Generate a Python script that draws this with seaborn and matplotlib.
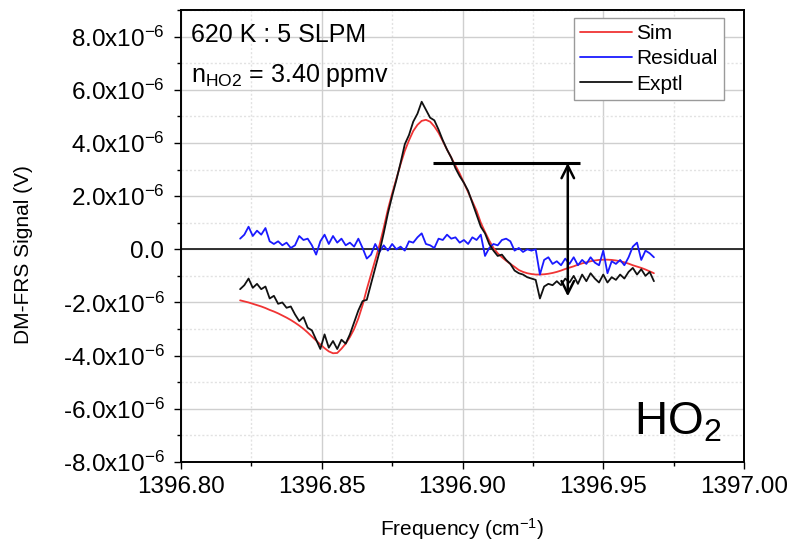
import numpy as np
import pandas as pd
import matplotlib
matplotlib.use("Agg")
import matplotlib.pyplot as plt
import seaborn as sns
from matplotlib.ticker import MultipleLocator, FuncFormatter

# ---------------- data (signal values in units of 1e-6 V) ----------------
series_names = ["Sim", "Residual", "Exptl"]
series_colors = ["#f03434", "#1a1aff", "#111111"]

freq_start = 1396.821   # first sampled frequency (cm^-1)
freq_step = 0.0015      # sampling step (cm^-1)

sim = [-1.92, -1.96, -2.00, -2.05, -2.10, -2.15, -2.21, -2.28, -2.34, -2.41,
       -2.49, -2.57, -2.66, -2.76, -2.87, -2.99, -3.13, -3.28, -3.43, -3.58,
       -3.72, -3.84, -3.91, -3.90, -3.74, -3.55, -3.30, -3.00, -2.60, -2.10,
       -1.50, -0.95, -0.40, 0.15, 0.80, 1.50, 2.10, 2.65, 3.20, 3.70,
       4.10, 4.45, 4.68, 4.83, 4.87, 4.80, 4.62, 4.38, 4.07, 3.75,
       3.45, 3.15, 2.85, 2.50, 2.15, 1.80, 1.45, 1.00, 0.65, 0.33,
       0.05, -0.15, -0.30, -0.43, -0.55, -0.66, -0.78, -0.85, -0.90, -0.93,
       -0.95, -0.95, -0.94, -0.92, -0.89, -0.85, -0.80, -0.74, -0.69, -0.64,
       -0.58, -0.53, -0.49, -0.45, -0.42, -0.40, -0.39, -0.39, -0.40, -0.42,
       -0.45, -0.49, -0.54, -0.60, -0.65, -0.70, -0.76, -0.83, -0.90]

exptl = [-1.50, -1.35, -1.10, -1.45, -1.30, -1.50, -1.40, -1.85, -1.75, -2.05,
         -2.00, -2.20, -2.15, -2.45, -2.70, -2.55, -2.95, -3.05, -3.40, -3.75,
         -3.20, -3.70, -3.45, -3.75, -3.40, -3.55, -3.20, -2.75, -2.30, -1.95,
         -1.90, -1.30, -0.70, -0.10, 0.60, 1.35, 2.00, 2.60, 3.25, 3.95,
         4.30, 4.80, 5.10, 5.55, 5.25, 4.95, 4.85, 4.50, 4.10, 3.75,
         3.45, 3.05, 2.75, 2.50, 2.20, 1.75, 1.30, 0.85, 0.60, 0.20,
         -0.05, -0.25, -0.20, -0.40, -0.55, -0.80, -0.90, -0.95, -1.05, -1.10,
         -1.15, -1.85, -1.40, -1.30, -1.35, -1.20, -1.35, -1.10, -1.25, -1.00,
         -1.30, -0.95, -1.20, -0.90, -1.10, -1.25, -0.95, -1.25, -1.05, -1.15,
         -0.95, -1.10, -0.85, -0.70, -0.95, -0.75, -1.00, -0.85, -1.20]

residual = [0.40, 0.55, 0.85, 0.50, 0.70, 0.55, 0.80, 0.30, 0.20, 0.30,
            0.15, 0.25, 0.05, 0.15, 0.50, 0.35, 0.40, 0.15, -0.20, 0.30,
            0.55, 0.20, 0.50, 0.25, 0.40, 0.15, 0.25, 0.10, 0.40, 0.05,
            -0.35, -0.20, 0.20, -0.10, 0.15, -0.05, 0.20, 0.00, 0.10, -0.05,
            0.30, 0.25, 0.45, 0.60, 0.20, 0.15, 0.05, 0.40, 0.35, 0.55,
            0.40, 0.45, 0.25, 0.35, 0.20, 0.45, 0.35, 0.55, -0.25, 0.05,
            0.20, 0.15, 0.35, 0.40, 0.30, -0.05, 0.05, -0.10, 0.00, -0.05,
            0.00, -0.95, -0.40, -0.30, -0.55, -0.45, -0.60, -0.35, -0.55, -0.30,
            -0.60, -0.40, -0.55, -0.30, -0.50, -0.60, -0.05, -0.90, -0.45, -0.55,
            -0.40, -0.60, -0.30, 0.10, 0.25, -0.40, -0.05, -0.15, -0.30]

freq = [round(freq_start + freq_step * i, 4) for i in range(len(sim))]

# annotation (arrow marking peak-to-trough amplitude), values in 1e-6 V
bar_freqs = [1396.8895, 1396.9417]
arrow_freq = 1396.9374
arrow_top = 3.25
arrow_bottom = -1.77

x_ticks = [1396.80, 1396.85, 1396.90, 1396.95, 1397.00]
y_ticks = [-8, -6, -4, -2, 0, 2, 4, 6, 8]

# ---------------- styling ----------------
sns.set_style("ticks")
plt.rcParams["font.family"] = ["Liberation Sans", "DejaVu Sans"]
plt.rcParams["mathtext.fontset"] = "custom"
plt.rcParams["mathtext.rm"] = "Liberation Sans"
plt.rcParams["mathtext.it"] = "Liberation Sans:italic"
plt.rcParams["mathtext.bf"] = "Liberation Sans:bold"
plt.rcParams["axes.unicode_minus"] = False
plt.rcParams["text.color"] = "black"
plt.rcParams["axes.labelcolor"] = "black"
plt.rcParams["xtick.color"] = "black"
plt.rcParams["ytick.color"] = "black"

df = pd.DataFrame({
    "freq": freq * 3,
    "signal": [v * 1e-6 for v in sim + residual + exptl],
    "series": [series_names[0]] * len(sim) + [series_names[1]] * len(residual)
              + [series_names[2]] * len(exptl),
})

fig = plt.figure(figsize=(7.93, 5.45), dpi=100)
ax = fig.add_axes([181 / 793, 1 - 462 / 545, (744 - 181) / 793, (462 - 10) / 545])

ax.set_xlim(1396.80, 1397.00)
ax.set_ylim(-8e-6, 9e-6)

# grid
ax.xaxis.set_major_locator(MultipleLocator(0.05))
ax.xaxis.set_minor_locator(MultipleLocator(0.025))
ax.yaxis.set_major_locator(MultipleLocator(2e-6))
ax.yaxis.set_minor_locator(MultipleLocator(1e-6))
ax.grid(which="major", color="#cfcfcf", lw=1.0, ls="-")
ax.grid(which="minor", color="#e2e2e2", lw=1.0, ls=(0, (1.5, 1.5)))
ax.set_axisbelow(True)

ax.axhline(0, color="#222222", lw=1.3, zorder=1.5)

sns.lineplot(data=df, x="freq", y="signal", hue="series", hue_order=series_names,
             palette=dict(zip(series_names, series_colors)), ax=ax, lw=1.3,
             sort=False, estimator=None, legend=True, zorder=3)

# annotation
ax.plot([bar_freqs[0], bar_freqs[1]], [arrow_top * 1e-6, arrow_top * 1e-6],
        color="black", lw=2.2, solid_capstyle="butt", zorder=4)
ax.annotate("", xy=(arrow_freq, arrow_bottom * 1e-6), xytext=(arrow_freq, arrow_top * 1e-6),
            arrowprops=dict(arrowstyle="<->,head_length=0.9,head_width=0.45",
                            color="black", lw=1.8, shrinkA=0, shrinkB=0), zorder=4)

# ticks
def yfmt(v, pos):
    m = v / 1e-6
    if abs(m) < 1e-9:
        return "0.0"
    return f"{m:.1f}x10" + r"$^{\mathregular{-6}}$"

ax.yaxis.set_major_formatter(FuncFormatter(yfmt))
ax.xaxis.set_major_formatter(FuncFormatter(lambda v, p: f"{v:.2f}"))
ax.set_xticks(x_ticks)
ax.set_yticks([t * 1e-6 for t in y_ticks])
ax.tick_params(which="major", direction="out", length=5, width=1.0, labelsize=17.5,
               colors="black", pad=5)
ax.tick_params(which="minor", direction="out", length=3, width=1.0, colors="black")
ax.tick_params(axis="y", which="major", pad=7)

for s in ax.spines.values():
    s.set_visible(True)
    s.set_color("black")
    s.set_linewidth(1.4)

ax.set_xlabel("Frequency (cm$^{\\mathregular{-1}}$)", fontsize=15, labelpad=13, color="black")
ax.set_ylabel("DM-FRS Signal (V)", fontsize=15, color="black")
ax.yaxis.set_label_coords(-0.262, 0.46)

# legend
handles, labels = ax.get_legend_handles_labels()
leg = ax.legend(handles, labels, loc="upper right",
                bbox_to_anchor=(724 / 793, 1 - 18 / 545), bbox_transform=fig.transFigure,
                fontsize=15, frameon=True, fancybox=False, framealpha=1,
                edgecolor="#9a9a9a", handlelength=2.5, handletextpad=0.2,
                labelspacing=0.3, borderpad=0.3, borderaxespad=0)
leg.get_frame().set_linewidth(1.0)
for line in leg.get_lines():
    line.set_linewidth(1.3)
for t in leg.get_texts():
    t.set_color("black")

# text annotations
fig.text(191 / 793, 1 - 42 / 545, "620 K : 5 SLPM", fontsize=18, ha="left", va="baseline",
         color="black")
fig.text(191 / 793, 1 - 82 / 545, r"n$_{\mathregular{HO2}}$ = 3.40 ppmv", fontsize=18,
         ha="left", va="baseline", color="black")
fig.text(722 / 793, 1 - 435 / 545, r"HO$_{\mathregular{2}}$", fontsize=33,
         ha="right", va="baseline", color="black")

fig.savefig("out.png", dpi=100)
